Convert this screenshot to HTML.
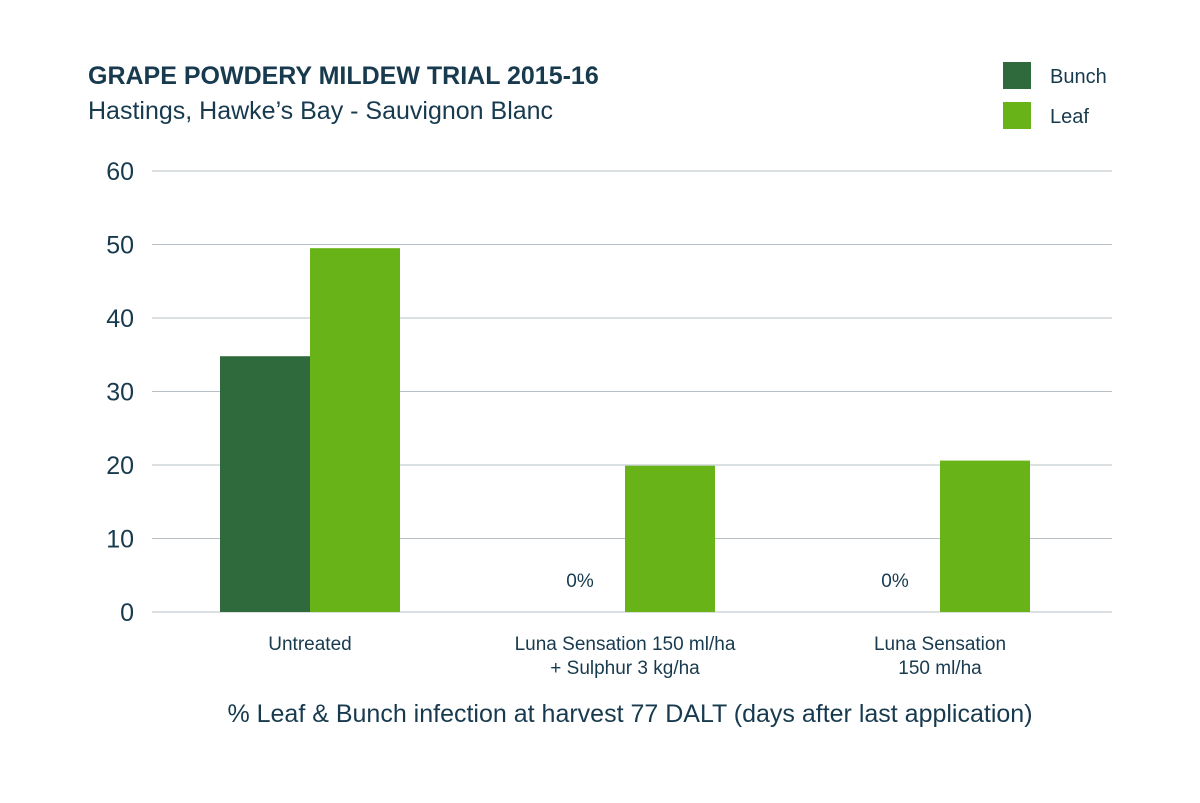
<!DOCTYPE html>
<html><head><meta charset="utf-8"><style>
body{margin:0;background:#fff;}
svg{display:block;font-family:"Liberation Sans",Arial,sans-serif;}
</style></head><body>
<svg id="chart" width="1200" height="803">
<text x="88" y="84" font-size="25" font-weight="bold" fill="#173a4e">GRAPE POWDERY MILDEW TRIAL 2015-16</text>
<text x="88" y="119" font-size="25" fill="#173a4e">Hastings, Hawke’s Bay - Sauvignon Blanc</text>
<g>
<rect x="1003" y="62" width="28" height="27" fill="#2e6a3c"/>
<text x="1050" y="83" font-size="20" fill="#173a4e">Bunch</text>
<rect x="1003" y="102" width="28" height="27" fill="#67b318"/>
<text x="1050" y="123" font-size="20" fill="#173a4e">Leaf</text>
</g>
<g id="grid"></g><g id="bars"></g><g id="labels"></g>
<text x="630" y="722" font-size="25" fill="#173a4e" text-anchor="middle">% Leaf &amp; Bunch infection at harvest 77 DALT (days after last application)</text>
</svg>
<script>
const categories=[["Untreated"],["Luna Sensation 150 ml/ha","+ Sulphur 3 kg/ha"],["Luna Sensation","150 ml/ha"]];
const bunch=[34.8,0,0];
const leaf=[49.5,19.9,20.6];
const yTicks=[0,10,20,30,40,50,60];
const NS="http://www.w3.org/2000/svg";
const y0=612,yTop=171,yMax=60;
function y(v){return y0-(v/yMax)*(y0-yTop);}
function cx(i){return 310+i*315;}
const bw=90;
function mk(tag,attrs,parent){const e=document.createElementNS(NS,tag);for(const k in attrs)e.setAttribute(k,attrs[k]);parent.appendChild(e);return e;}
const g=document.getElementById('grid'),b=document.getElementById('bars'),l=document.getElementById('labels');
yTicks.forEach(t=>{
 const ln=mk('line',{x1:152,x2:1112,y1:y(t),y2:y(t),stroke:'#b7c0c6','stroke-width':1},g);
 
 
 const tx=mk('text',{x:134,y:y(t)+9,'font-size':25,fill:'#173a4e','text-anchor':'end'},g);
 tx.textContent=t;
 
 
});
categories.forEach((c,i)=>{
 const x=cx(i);
 if(bunch[i]>0){
  const r=mk('rect',{x:x-bw,y:y(bunch[i]),width:bw,height:y0-y(bunch[i]),fill:'#2e6a3c'},b);
  
  
 } else {
  const t=mk('text',{x:x-bw/2,y:587,'font-size':19,fill:'#173a4e','text-anchor':'middle'},l);
  t.textContent=bunch[i]+'%';
  
  
 }
 const r2=mk('rect',{x:x,y:y(leaf[i]),width:bw,height:y0-y(leaf[i]),fill:'#67b318'},b);
 
 
 c.forEach((line,j)=>{
  const t=mk('text',{x:x,y:650+j*24,'font-size':19,fill:'#173a4e','text-anchor':'middle'},l);
  t.textContent=line;
  
  
 });
});
</script>
</body></html>
